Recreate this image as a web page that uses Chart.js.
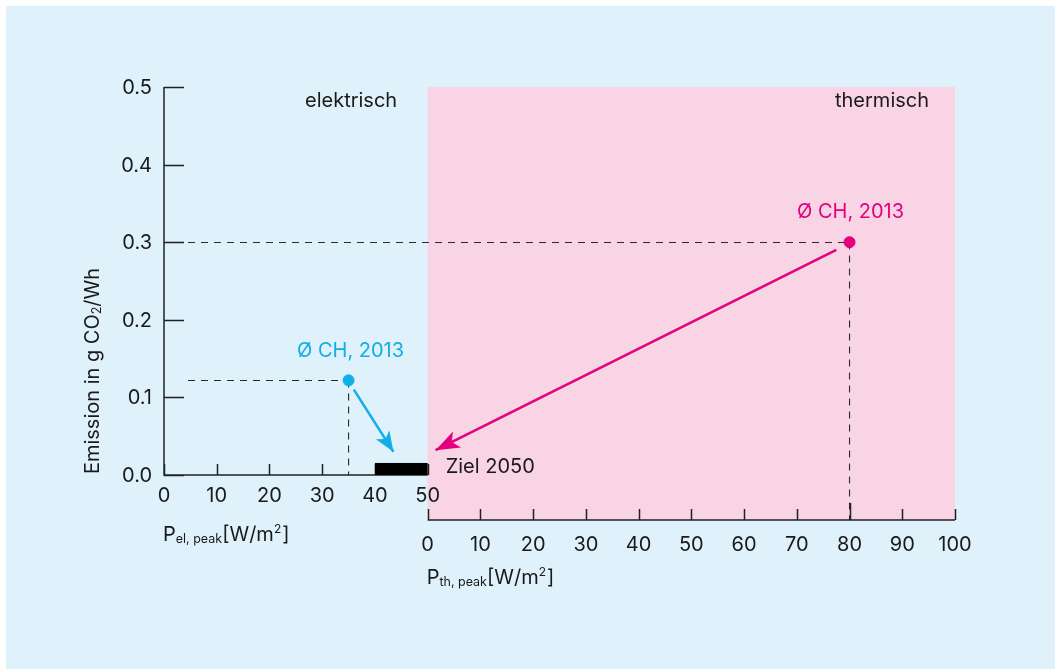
<!DOCTYPE html>
<html>
<head>
<meta charset="utf-8">
<script src="https://cdn.jsdelivr.net/npm/chart.js@4.4.1/dist/chart.umd.min.js"></script>
<style>
  html, body { margin: 0; padding: 0; background: #ffffff; }
  #panel { position: absolute; left: 6px; top: 6px; width: 1049px; height: 663px; background: #dff1fb; }
  #wrap { position: absolute; left: 0; top: 0; width: 1055px; height: 669px; }
</style>
</head>
<body>
<div id="panel"></div>
<div id="wrap"><canvas id="grafico" width="1055" height="669"></canvas></div>
<script>
// eixo x: 0-50 elektrisch, 50-150 = thermisch 0-100 (mesma escala em px)
const elTicks = [0, 10, 20, 30, 40, 50];
const thTicks = [0, 10, 20, 30, 40, 50, 60, 70, 80, 90, 100];
const yTicks = [0, 0.1, 0.2, 0.3, 0.4, 0.5];
const thOffset = 50;

// pontos medios CH 2013
const elPunkt = { x: 35, y: 0.122 };
const thPunkt = { x: 80, y: 0.3 };

// setas (inicio / fim)
const elPfeil = [{ x: 36, y: 0.11 }, { x: 43.5, y: 0.03 }];
const thPfeil = [{ x: 77.5, y: 0.29 }, { x: 1.5, y: 0.032 }];

// meta 2050 (barra preta)
const zielVon = 40, zielBis = 50, zielHoehe = 0.0155;

const blau = '#12aee8';
const pink = '#e5007d';
const rosa = '#f9d4e5';
const schrift = 'Inter, "Open Sans", sans-serif';

function pfeilDaten(p, off) {
    return p.map(function (q) { return { x: q.x + off, y: q.y }; });
}

const plugin = {
    id: 'achsen',
    beforeDatasetsDraw: function (chart) {
        const ctx = chart.ctx;
        const x = chart.scales.x, y = chart.scales.y;
        const y0 = y.getPixelForValue(0);
        const yTh = y0 + 45; // eixo termico abaixo
        ctx.save();
        // area rosa
        ctx.fillStyle = rosa;
        ctx.fillRect(x.getPixelForValue(thOffset), y.getPixelForValue(0.5),
            x.getPixelForValue(thOffset + 100) - x.getPixelForValue(thOffset),
            yTh - y.getPixelForValue(0.5));

        // linhas tracejadas
        ctx.strokeStyle = '#2a2a2a';
        ctx.lineWidth = 1.1;
        ctx.setLineDash([7, 6]);
        const px1 = x.getPixelForValue(elPunkt.x), py1 = Math.round(y.getPixelForValue(elPunkt.y)) + 0.5;
        ctx.beginPath();
        ctx.moveTo(x.getPixelForValue(0) + 24, py1); ctx.lineTo(px1, py1);
        ctx.moveTo(px1, py1); ctx.lineTo(px1, y0);
        const px2 = x.getPixelForValue(thPunkt.x + thOffset), py2 = Math.round(y.getPixelForValue(thPunkt.y)) + 0.5;
        ctx.moveTo(x.getPixelForValue(0) + 24, py2); ctx.lineTo(px2, py2);
        ctx.moveTo(px2, py2); ctx.lineTo(px2, yTh);
        ctx.stroke();
        ctx.setLineDash([]);

        // eixos
        ctx.strokeStyle = '#222';
        ctx.lineWidth = 1.5;
        const xl = x.getPixelForValue(0);
        ctx.beginPath();
        ctx.moveTo(xl, y.getPixelForValue(0.5)); ctx.lineTo(xl, y0);
        ctx.lineTo(x.getPixelForValue(50), y0);
        yTicks.forEach(function (t) {
            const py = Math.round(y.getPixelForValue(t)) + 0.5;
            ctx.moveTo(xl, py); ctx.lineTo(xl + 20, py);
        });
        elTicks.forEach(function (t) {
            const px = Math.round(x.getPixelForValue(t)) + 0.5;
            ctx.moveTo(px, y0); ctx.lineTo(px, y0 - 11);
        });
        ctx.moveTo(x.getPixelForValue(thOffset), yTh);
        ctx.lineTo(x.getPixelForValue(thOffset + 100), yTh);
        thTicks.forEach(function (t) {
            const px = Math.round(x.getPixelForValue(t + thOffset)) + 0.5;
            ctx.moveTo(px, yTh); ctx.lineTo(px, yTh - (t === thPunkt.x ? 17 : 11));
        });
        ctx.stroke();

        // barra Ziel 2050
        ctx.fillStyle = '#000';
        ctx.fillRect(x.getPixelForValue(zielVon), y.getPixelForValue(zielHoehe),
            x.getPixelForValue(zielBis) - x.getPixelForValue(zielVon), y0 - y.getPixelForValue(zielHoehe));

        // textos
        ctx.fillStyle = '#1a1a1a';
        ctx.font = '20px ' + schrift;
        ctx.textAlign = 'right';
        ctx.textBaseline = 'middle';
        yTicks.forEach(function (t) {
            ctx.fillText(t.toFixed(1), xl - 12, y.getPixelForValue(t) + 1);
        });
        ctx.textAlign = 'center';
        elTicks.forEach(function (t) {
            ctx.fillText(String(t), x.getPixelForValue(t), y0 + 21);
        });
        thTicks.forEach(function (t) {
            ctx.fillText(String(t), x.getPixelForValue(t + thOffset), yTh + 25);
        });
        ctx.textAlign = 'left';
        ctx.fillText('elektrisch', 305, y.getPixelForValue(0.5) + 14);
        ctx.fillText('thermisch', 835, y.getPixelForValue(0.5) + 14);
        ctx.fillText('Ziel 2050', x.getPixelForValue(zielBis) + 18, y0 - 8);

        // titulos dos eixos com subscrito
        function achsTitel(sub, px, py) {
            ctx.textAlign = 'left';
            ctx.font = '20px ' + schrift;
            ctx.fillText('P', px, py);
            let w = ctx.measureText('P').width;
            ctx.font = '12.5px ' + schrift;
            ctx.fillText(sub, px + w, py + 4);
            w += ctx.measureText(sub).width;
            ctx.font = '20px ' + schrift;
            ctx.fillText('[W/m', px + w, py);
            w += ctx.measureText('[W/m').width;
            ctx.font = '12px ' + schrift;
            ctx.fillText('2', px + w, py - 6);
            w += ctx.measureText('2').width + 1;
            ctx.font = '20px ' + schrift;
            ctx.fillText(']', px + w, py);
        }
        achsTitel('el, peak', xl - 1, y0 + 60);
        achsTitel('th, peak', x.getPixelForValue(thOffset) - 1, yTh + 58);

        // titulo y
        ctx.save();
        ctx.translate(93, 371);
        ctx.rotate(-Math.PI / 2);
        ctx.textAlign = 'left';
        ctx.font = '20px ' + schrift;
        const a = 'Emission in g CO', b = '/Wh';
        const wa = ctx.measureText(a).width;
        ctx.font = '12.5px ' + schrift;
        const ws = ctx.measureText('2').width;
        ctx.font = '20px ' + schrift;
        const wb = ctx.measureText(b).width;
        const start = -(wa + ws + wb) / 2;
        ctx.fillText(a, start, 0);
        ctx.font = '12.5px ' + schrift;
        ctx.fillText('2', start + wa, 4);
        ctx.font = '20px ' + schrift;
        ctx.fillText(b, start + wa + ws, 0);
        ctx.restore();

        // rotulos dos pontos
        ctx.textAlign = 'center';
        ctx.font = '20px ' + schrift;
        ctx.fillStyle = blau;
        ctx.fillText('Ø CH, 2013', px1 + 2, py1 - 30);
        ctx.fillStyle = pink;
        ctx.fillText('Ø CH, 2013', px2 + 1, py2 - 31);
        ctx.restore();
    },
    afterDatasetsDraw: function (chart) {
        // pontas das setas
        const ctx = chart.ctx;
        const x = chart.scales.x, y = chart.scales.y;
        function spitze(p, off, cor, len, half) {
            const a = { x: x.getPixelForValue(p[0].x + off), y: y.getPixelForValue(p[0].y) };
            const b = { x: x.getPixelForValue(p[1].x + off), y: y.getPixelForValue(p[1].y) };
            const ang = Math.atan2(b.y - a.y, b.x - a.x);
            ctx.save();
            ctx.translate(b.x, b.y);
            ctx.rotate(ang);
            ctx.fillStyle = cor;
            ctx.beginPath();
            ctx.moveTo(0, 0);
            ctx.lineTo(-len, -half);
            ctx.lineTo(-len * 0.75, 0);
            ctx.lineTo(-len, half);
            ctx.closePath();
            ctx.fill();
            ctx.restore();
        }
        spitze(elPfeil, 0, blau, 20, 8);
        spitze(thPfeil, thOffset, pink, 24, 9);
    }
};

const config = {
    type: 'scatter',
    data: {
        datasets: [
            {
                label: 'el',
                data: [elPunkt],
                backgroundColor: blau,
                borderColor: blau,
                pointRadius: 5.5
            },
            {
                label: 'th',
                data: [{ x: thPunkt.x + thOffset, y: thPunkt.y }],
                backgroundColor: pink,
                borderColor: pink,
                pointRadius: 5.5
            },
            {
                label: 'seta el',
                data: elPfeil,
                showLine: true,
                borderColor: blau,
                borderWidth: 2.5,
                pointRadius: 0
            },
            {
                label: 'seta th',
                data: pfeilDaten(thPfeil, thOffset),
                showLine: true,
                borderColor: pink,
                borderWidth: 2.5,
                pointRadius: 0
            }
        ]
    },
    options: {
        responsive: false,
        animation: false,
        layout: { padding: { left: 164, right: 100, top: 87, bottom: 194 } },
        plugins: { legend: { display: false }, tooltip: { enabled: false } },
        scales: {
            x: { type: 'linear', min: 0, max: 150, display: false },
            y: { type: 'linear', min: 0, max: 0.5, display: false }
        }
    },
    plugins: [plugin]
};

new Chart(document.getElementById('grafico'), config);
</script>
</body>
</html>
